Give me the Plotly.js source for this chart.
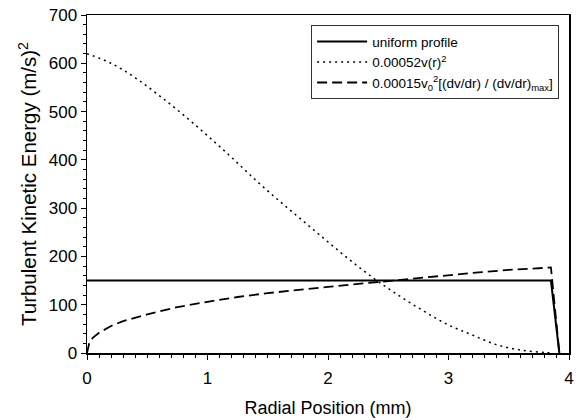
<!DOCTYPE html>
<html>
<head>
<meta charset="utf-8">
<script src="https://cdn.plot.ly/plotly-3.0.1.min.js"></script>
<style>html,body{margin:0;padding:0;background:#fff;}#chart{width:581px;height:420px;}</style>
</head>
<body>
<div id="chart"></div>
<script>
// Uniform profile
var uniformX = [0, 3.85, 3.92];
var uniformY = [150, 150, 0];

// 0.00052 v(r)^2
var velX = [0, 0.2, 0.4, 0.6, 0.8, 1.0, 1.2, 1.4, 1.6, 1.8, 2.0, 2.2, 2.4, 2.6, 2.8, 3.0, 3.2, 3.4, 3.6, 3.8, 3.87];
var velY = [620, 600, 570, 533, 493, 450, 405, 358, 314, 272, 230, 189, 151, 117, 86, 58, 37, 17, 6, 1, 0];

// 0.00015 v0^2 [(dv/dr)/(dv/dr)max]
var gradX = [0, 0.02, 0.05, 0.1, 0.2, 0.3, 0.5, 0.75, 1.0, 1.25, 1.5, 1.75, 2.0, 2.25, 2.5, 2.75, 3.0, 3.25, 3.5, 3.75, 3.85, 3.92];
var gradY = [0, 22, 32, 42, 56, 66, 80, 95, 106, 116, 124, 131, 137, 143, 149, 156, 162, 167, 172, 176, 177, 0];

var names = ['uniform profile', '0.00052v(r)<sup>2</sup>', '0.00015v<sub>0</sub><sup>2</sup>[(dv/dr) / (dv/dr)<sub>max</sub>]'];

var traces = [
  {x: uniformX, y: uniformY, mode: 'lines', name: names[0], line: {color: '#000', width: 2}},
  {x: velX, y: velY, mode: 'lines', name: names[1], line: {color: '#000', width: 1.5, dash: '2px,4px', shape: 'spline'}},
  {x: gradX, y: gradY, mode: 'lines', name: names[2], line: {color: '#000', width: 1.8, dash: '10px,5px'}}
];

var font = 'Liberation Sans, Arial, sans-serif';
var layout = {
  width: 581, height: 420,
  margin: {l: 87, r: 12, t: 15, b: 67},
  paper_bgcolor: '#fff', plot_bgcolor: '#fff',
  font: {family: font, color: '#000', size: 16},
  showlegend: true,
  legend: {
    x: 0.465, y: 0.97, xanchor: 'left', yanchor: 'top',
    bordercolor: '#333', borderwidth: 1, bgcolor: '#fff',
    font: {family: font, size: 13.5, color: '#000'},
    itemwidth: 50,
    tracegroupgap: 0
  },
  xaxis: {
    range: [0, 4], tickvals: [0, 1, 2, 3, 4], ticktext: ['0', '1', '2', '3', '4'],
    showgrid: false, zeroline: false,
    showline: true, linecolor: '#000', linewidth: 1.5, mirror: true,
    ticks: 'outside', ticklen: 5, tickwidth: 1, tickcolor: '#000',
    ticklabelstandoff: 4,
    minor: {dtick: 0.1, ticks: 'outside', ticklen: 3, tickwidth: 1, tickcolor: '#000', showgrid: false},
    tickfont: {family: font, size: 17},
    title: {text: 'Radial Position (mm)', font: {family: font, size: 18}, standoff: 14}
  },
  yaxis: {
    range: [0, 700], tickvals: [0, 100, 200, 300, 400, 500, 600, 700],
    ticktext: ['0', '100', '200', '300', '400', '500', '600', '700'],
    showgrid: false, zeroline: false,
    showline: true, linecolor: '#000', linewidth: 1.5, mirror: true,
    ticks: 'outside', ticklen: 5, tickwidth: 1, tickcolor: '#000',
    minor: {dtick: 20, ticks: 'outside', ticklen: 3, tickwidth: 1, tickcolor: '#000', showgrid: false},
    tickfont: {family: font, size: 17},
    title: {text: 'Turbulent Kinetic Energy (m/s)<sup>2</sup>', font: {family: font, size: 20.5}, standoff: 6}
  }
};

Plotly.newPlot('chart', traces, layout, {displayModeBar: false, staticPlot: true});
</script>
</body>
</html>
